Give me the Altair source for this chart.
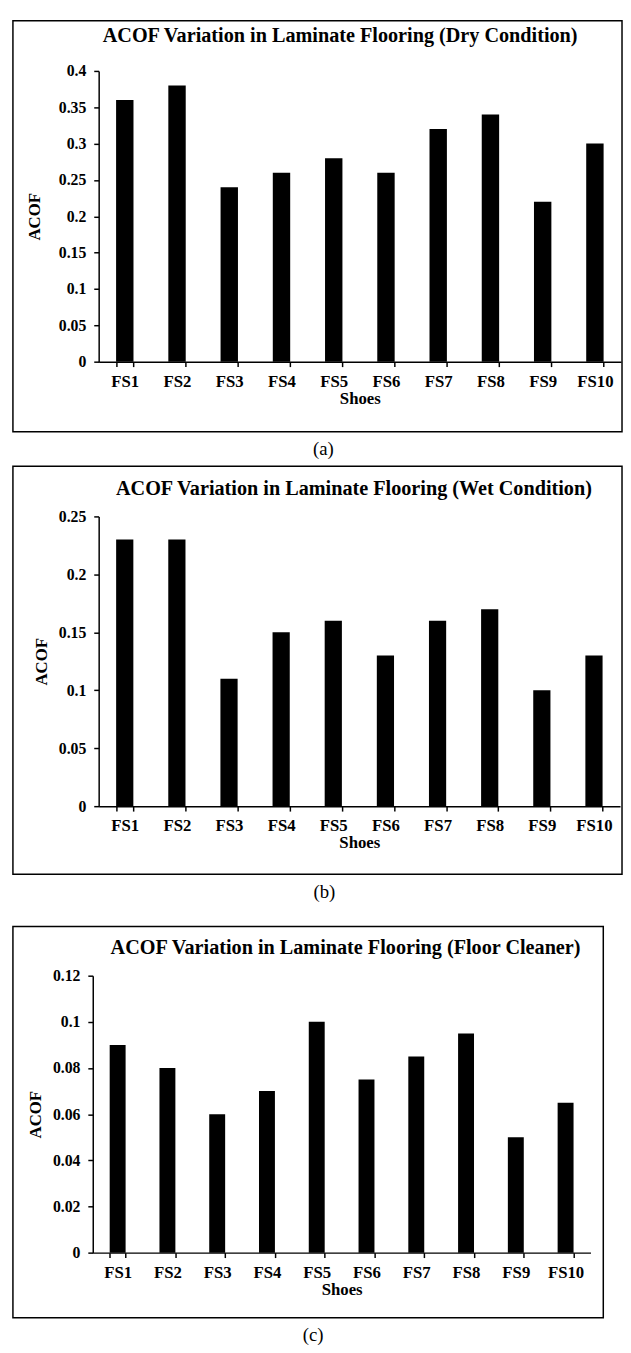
import altair as alt
import pandas as pd

shoes = ["FS1", "FS2", "FS3", "FS4", "FS5", "FS6", "FS7", "FS8", "FS9", "FS10"]
dry = [0.36, 0.38, 0.24, 0.26, 0.28, 0.26, 0.32, 0.34, 0.22, 0.30]
wet = [0.23, 0.23, 0.11, 0.15, 0.16, 0.13, 0.16, 0.17, 0.10, 0.13]
cleaner = [0.09, 0.08, 0.06, 0.07, 0.10, 0.075, 0.085, 0.095, 0.05, 0.065]

dry_ticks = [0, 0.05, 0.1, 0.15, 0.2, 0.25, 0.3, 0.35, 0.4]
wet_ticks = [0, 0.05, 0.1, 0.15, 0.2, 0.25]
cleaner_ticks = [0, 0.02, 0.04, 0.06, 0.08, 0.1, 0.12]

titles = [
    "ACOF Variation in Laminate Flooring (Dry Condition)",
    "ACOF Variation in Laminate Flooring (Wet Condition)",
    "ACOF Variation in Laminate Flooring (Floor Cleaner)",
]
captions = ["(a)", "(b)", "(c)"]
x_title = "Shoes"
y_title = "ACOF"

FONT = "Liberation Serif"


def panel(values, ticks, title, w, h, xr, yr, pad_inner, y_title_pad, title_dx, title_off):
    df = pd.DataFrame({"Shoes": shoes, "ACOF": values})
    return (
        alt.Chart(
            df,
            title=alt.TitleParams(
                title, orient="top", anchor="middle", offset=title_off, dx=title_dx,
                fontSize=20.5, font=FONT, fontWeight="bold", color="black",
            ),
        )
        .mark_bar(color="black")
        .encode(
            x=alt.X(
                "Shoes:N", sort=shoes,
                scale=alt.Scale(range=xr, paddingInner=pad_inner, paddingOuter=pad_inner / 2),
                axis=alt.Axis(
                    title=x_title, offset=-(h - yr[0]), labelAngle=0, tickBand="extent",
                    labelFontSize=17, labelPadding=7, titleFontSize=17, titlePadding=1,
                ),
            ),
            y=alt.Y(
                "ACOF:Q",
                scale=alt.Scale(domain=[ticks[0], ticks[-1]], range=yr, nice=False, zero=True),
                axis=alt.Axis(
                    title=y_title, values=ticks, format=".2~f", offset=-xr[0],
                    labelFontSize=16, labelPadding=8, labelFlush=False, labelOverlap=False,
                    titleFontSize=17, titlePadding=y_title_pad,
                ),
            ),
        )
        .properties(width=w, height=h)
    )


pa = panel(dry, dry_ticks, titles[0], 618, 417, [87, 617], [346, 51], 0.667, 15, 23, -26)
pb = panel(wet, wet_ticks, titles[1], 618, 414, [87, 616], [345, 51], 0.67, 8, 37, -34)
pc = panel(cleaner, cleaner_ticks, titles[2], 599, 397, [81, 586], [331, 50], 0.68, 8, 38, -32)


def wrap(p, cap, dx):
    return alt.vconcat(
        p,
        title=alt.TitleParams(
            cap, orient="bottom", anchor="middle", offset=8, dx=dx,
            fontSize=19, font=FONT, fontWeight="normal", color="black",
        ),
    )


wa = wrap(pa, captions[0], 6)
wb = wrap(pb, captions[1], 7)
wc = wrap(pc, captions[2], 5)

chart = (
    alt.vconcat(alt.vconcat(wa, wb, spacing=6), wc, spacing=24)
    .properties(padding={"left": 4, "top": 2, "right": 0, "bottom": 0})
    .configure_view(stroke="black", strokeWidth=1.5)
    .configure_axis(
        domainColor="black", domainWidth=1.5, tickColor="black", tickWidth=1.5, tickSize=5,
        labelFont=FONT, labelFontWeight="bold", labelColor="black",
        titleFont=FONT, titleFontWeight="bold", titleColor="black", grid=False,
    )
)

chart.save("out.html", embed_options={"renderer": "svg", "actions": False})
